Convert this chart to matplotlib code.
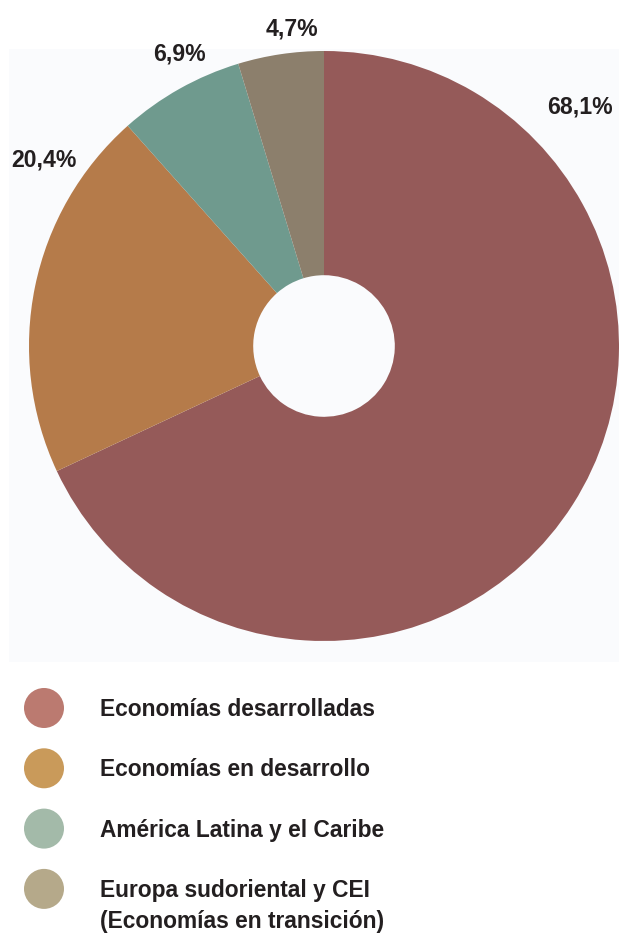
import numpy as np
import matplotlib.pyplot as plt
from matplotlib.patches import Rectangle

categories = ["Economías desarrolladas", "Economías en desarrollo",
              "América Latina y el Caribe",
              "Europa sudoriental y CEI\n(Economías en transición)"]
values = [68.1, 20.4, 6.9, 4.7]
pct_labels = ["68,1%", "20,4%", "6,9%", "4,7%"]
pie_colors = ["#955a59", "#b57b4a", "#6f9a8e", "#8c7f6c"]
legend_colors = ["#bb7a70", "#c99a5a", "#a3baa9", "#b5a98a"]

# where each % label sits: fraction along its wedge, radius in pie units
lab_frac = [0.192, 0.80, 0.62, 0.66]
lab_rad = [1.187, 1.14, 1.105, 1.08]

W, H = 619, 935
fig = plt.figure(figsize=(W / 100, H / 100), dpi=100)
fig.patch.set_facecolor("white")

# faint panel behind the pie
bg = fig.add_axes([0, 0, 1, 1])
bg.set_xlim(0, W)
bg.set_ylim(H, 0)
bg.axis("off")
bg.add_patch(Rectangle((9, 49), W - 9, 613, facecolor="#fafbfd", edgecolor="none"))

cx, cy, r = 324, 346, 295
ax = fig.add_axes([(cx - r) / W, (H - cy - r) / H, 2 * r / W, 2 * r / H])
ax.pie(values, colors=pie_colors, startangle=90, counterclock=False,
       wedgeprops=dict(width=0.76, edgecolor="none"), radius=1.0)
ax.set_xlim(-1, 1)
ax.set_ylim(-1, 1)
ax.set_aspect("equal")
ax.axis("off")

font = dict(family="Liberation Sans", fontweight="bold", color="#231f20")

total = sum(values)
start = 90.0
for v, lab, fr, rr in zip(values, pct_labels, lab_frac, lab_rad):
    span = v / total * 360
    ang = np.deg2rad(start - fr * span)
    ax.text(rr * np.cos(ang), rr * np.sin(ang), lab, ha="center", va="center",
            fontsize=16.6, clip_on=False, **font)
    start -= span

# legend
for i, (c, name) in enumerate(zip(legend_colors, categories)):
    y = 708 + i * 60.3
    bg.scatter([44], [y], s=830, color=c, edgecolor="none")
    for j, line in enumerate(name.split("\n")):
        bg.text(100, y + 8 + j * 31, line, ha="left", va="baseline",
                fontsize=16.4, **font)

fig.savefig("out.png", dpi=100)
